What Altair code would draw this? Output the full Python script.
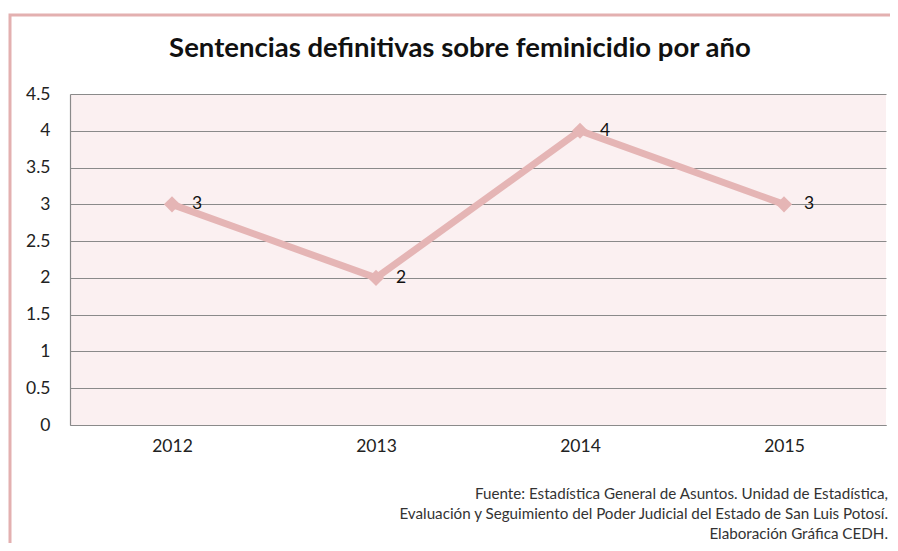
import altair as alt
import pandas as pd

years = ["2012", "2013", "2014", "2015"]
values = [3, 2, 4, 3]
y_ticks = [0, 0.5, 1, 1.5, 2, 2.5, 3, 3.5, 4, 4.5]
title_text = "Sentencias definitivas sobre feminicidio por año"
footer_lines = [
    "Fuente: Estadística General de Asuntos. Unidad de Estadística,",
    "Evaluación y Seguimiento del Poder Judicial del Estado de San Luis Potosí.",
    "Elaboración Gráfica CEDH.",
]

df = pd.DataFrame({"year": years, "value": values})
one = pd.DataFrame({"k": [0]})

PINK = "#E5B5B5"
FONT = "Lato"

x = alt.X("year:N", title=None, sort=years,
          scale=alt.Scale(paddingInner=0, paddingOuter=0),
          axis=alt.Axis(labelAngle=0, ticks=False, labelPadding=12,
                        labelFontSize=17.5, labelColor="#222", labelFont=FONT,
                        domainColor="#8a8a8a", domainWidth=1.2, grid=False))
y = alt.Y("value:Q", title=None,
          scale=alt.Scale(domain=[0, 4.5], nice=False),
          axis=alt.Axis(values=y_ticks, format="~g", ticks=False, labelPadding=20,
                        labelFontSize=17.5, labelColor="#222", labelFont=FONT,
                        domainColor="#8a8a8a", domainWidth=1.2,
                        gridColor="#8a8a8a", gridWidth=1.2))

base = alt.Chart(df)
line = base.mark_line(color=PINK, strokeWidth=7).encode(x=x, y=y)
pts = base.mark_point(shape="diamond", filled=True, opacity=1, color=PINK, size=260).encode(x=x, y=y)
labels = base.mark_text(align="left", baseline="middle", dx=20, fontSize=17.5,
                        font=FONT, color="#111").encode(x=x, y=y, text="value:Q")

border = alt.Chart(one).mark_rect(fill=None, stroke="#E3B0B0", strokeWidth=3).encode(
    x=alt.value(-60), x2=alt.value(832), y=alt.value(-79), y2=alt.value(560))

title = alt.Chart(one).mark_text(fontSize=27.5, fontWeight="bold", font=FONT,
                                 color="#111", align="center", baseline="middle").encode(
    x=alt.value(390), y=alt.value(-45), text=alt.value(title_text))

footer = alt.Chart(one).mark_text(fontSize=15.2, font=FONT, color="#333",
                                  align="right", baseline="middle", lineHeight=20).encode(
    x=alt.value(818), y=alt.value(400), text=alt.value(footer_lines))

chart = alt.layer(border, line, pts, labels, title, footer).properties(
    width=816, height=331,
    autosize=alt.AutoSizeParams(type="none"),
    padding={"left": 62, "top": 86, "right": 4, "bottom": 118},
    background="white",
).configure_view(fill="#FBF0F1", stroke=None)

chart.save("out.html", embed_options={"renderer": "svg", "actions": False})
